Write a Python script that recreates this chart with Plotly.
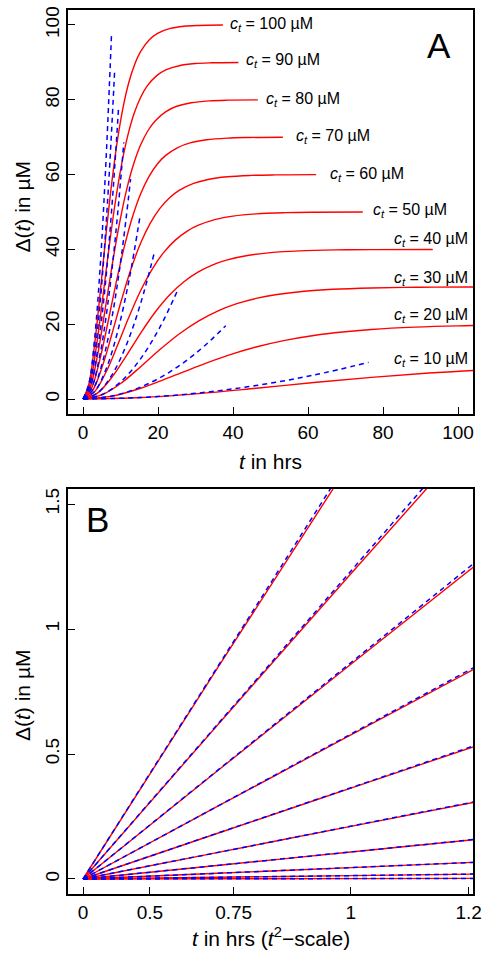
import plotly.graph_objects as go

# ---------------- data ----------------
ct = [100, 90, 80, 70, 60, 50, 40, 30, 20, 10]

# Panel A, red solid curves: time (hrs) and Delta (uM)
redA_t_100 = [0, 1.54, 3.08, 4.62, 6.15, 7.69, 9.23, 10.77, 12.31, 13.85, 15.38, 17.69, 20.0, 23.08, 26.92, 30.77, 37.31]
redA_d_100 = [0, 3.90, 14.44, 28.84, 44.10, 58.00, 69.50, 78.39, 84.95, 89.65, 92.94, 96.06, 97.82, 99.01, 99.64, 99.87, 99.98]
redA_t_90 = [0, 1.71, 3.42, 5.13, 6.84, 8.55, 10.26, 11.97, 13.67, 15.38, 17.09, 19.66, 22.22, 25.64, 29.91, 34.19, 41.45]
redA_d_90 = [0, 3.51, 13.00, 25.96, 39.69, 52.20, 62.55, 70.55, 76.46, 80.69, 83.65, 86.45, 88.04, 89.11, 89.68, 89.88, 89.98]
redA_t_80 = [0, 1.92, 3.85, 5.77, 7.69, 9.62, 11.54, 13.46, 15.38, 17.31, 19.23, 22.12, 25.0, 28.85, 33.65, 38.46, 46.63]
redA_d_80 = [0, 3.12, 11.55, 23.07, 35.28, 46.40, 55.60, 62.71, 67.96, 71.72, 74.35, 76.85, 78.26, 79.21, 79.71, 79.90, 79.98]
redA_t_70 = [0, 2.20, 4.40, 6.59, 8.79, 10.99, 13.19, 15.38, 17.58, 19.78, 21.98, 25.27, 28.57, 32.97, 38.46, 43.95, 53.29]
redA_d_70 = [0, 2.73, 10.11, 20.19, 30.87, 40.60, 48.65, 54.87, 59.47, 62.76, 65.06, 67.24, 68.47, 69.31, 69.75, 69.91, 69.99]
redA_t_60 = [0, 2.56, 5.13, 7.69, 10.26, 12.82, 15.38, 17.95, 20.51, 23.08, 25.64, 29.49, 33.33, 38.46, 44.87, 51.28, 62.18]
redA_d_60 = [0, 2.34, 8.66, 17.30, 26.46, 34.80, 41.70, 47.03, 50.97, 53.79, 55.76, 57.64, 58.69, 59.41, 59.78, 59.92, 59.99]
redA_t_50 = [0, 3.08, 6.15, 9.23, 12.31, 15.38, 18.46, 21.54, 24.61, 27.69, 30.77, 35.38, 40.0, 46.15, 53.84, 61.54, 74.61]
redA_d_50 = [0, 1.95, 7.22, 14.42, 22.05, 29.00, 34.75, 39.20, 42.48, 44.83, 46.47, 48.03, 48.91, 49.51, 49.82, 49.94, 49.99]
redA_t_40 = [0, 3.85, 7.69, 11.54, 15.38, 19.23, 23.08, 26.92, 30.77, 34.62, 38.46, 44.23, 50.0, 57.69, 67.31, 76.92, 93.27]
redA_d_40 = [0, 1.56, 5.78, 11.54, 17.64, 23.20, 27.80, 31.36, 33.98, 35.86, 37.18, 38.42, 39.13, 39.60, 39.86, 39.95, 39.99]
redA_t_30 = [0, 5.13, 10.26, 15.38, 20.51, 25.64, 30.77, 35.90, 41.02, 46.15, 51.28, 58.97, 66.67, 76.92, 89.74, 102.56, 124.35]
redA_d_30 = [0, 1.17, 4.33, 8.65, 13.23, 17.40, 20.85, 23.52, 25.49, 26.90, 27.88, 28.82, 29.35, 29.70, 29.89, 29.96, 29.99]
redA_t_20 = [0, 7.69, 15.38, 23.08, 30.77, 38.46, 46.15, 53.85, 61.54, 69.23, 76.92, 88.46, 100.0, 115.38]
redA_d_20 = [0, 0.78, 2.89, 5.77, 8.82, 11.60, 13.90, 15.68, 16.99, 17.93, 18.59, 19.21, 19.56, 19.80]
redA_t_10 = [0, 15.38, 30.77, 46.15, 61.54, 76.92, 92.30, 107.69]
redA_d_10 = [0, 0.39, 1.44, 2.88, 4.41, 5.80, 6.95, 7.84]

# Panel A, blue dashed curves (early-time approximation)
bluA_t_100 = [0, 1.54, 3.08, 4.62, 6.15, 7.62]
bluA_d_100 = [0, 4.0, 16.0, 36.0, 64.0, 98.0]
bluA_t_90 = [0, 1.71, 3.42, 5.13, 6.84, 8.46]
bluA_d_90 = [0, 3.6, 14.4, 32.4, 57.6, 88.2]
bluA_t_80 = [0, 1.92, 3.85, 5.77, 7.69, 9.52]
bluA_d_80 = [0, 3.2, 12.8, 28.8, 51.2, 78.4]
bluA_t_70 = [0, 2.20, 4.40, 6.59, 8.79, 10.88]
bluA_d_70 = [0, 2.8, 11.2, 25.2, 44.8, 68.6]
bluA_t_60 = [0, 2.56, 5.13, 7.69, 10.26, 12.69]
bluA_d_60 = [0, 2.4, 9.6, 21.6, 38.4, 58.8]
bluA_t_50 = [0, 3.08, 6.15, 9.23, 12.31, 15.23]
bluA_d_50 = [0, 2.0, 8.0, 18.0, 32.0, 49.0]
bluA_t_40 = [0, 3.85, 7.69, 11.54, 15.38, 19.04]
bluA_d_40 = [0, 1.6, 6.4, 14.4, 25.6, 39.2]
bluA_t_30 = [0, 5.13, 10.26, 15.38, 20.51, 25.38]
bluA_d_30 = [0, 1.2, 4.8, 10.8, 19.2, 29.4]
bluA_t_20 = [0, 7.69, 15.38, 23.08, 30.77, 38.08]
bluA_d_20 = [0, 0.8, 3.2, 7.2, 12.8, 19.6]
bluA_t_10 = [0, 15.38, 30.77, 46.15, 61.54, 76.15]
bluA_d_10 = [0, 0.4, 1.6, 3.6, 6.4, 9.8]

# Panel B (x stored as t^2, axis labelled in t)
redB_tsq = [0, 0.5, 1.0, 1.5]
redB_d_100 = [0, 0.8402, 1.6710, 2.4922]
redB_d_90 = [0, 0.6132, 1.2208, 1.8227]
redB_d_80 = [0, 0.4311, 0.8591, 1.2839]
redB_d_70 = [0, 0.2891, 0.5765, 0.8624]
redB_d_60 = [0, 0.1821, 0.3635, 0.5442]
redB_d_50 = [0, 0.1055, 0.2107, 0.3156]
redB_d_40 = [0, 0.05405, 0.1080, 0.1619]
redB_d_30 = [0, 0.02281, 0.04556, 0.06835]
redB_d_20 = [0, 0.00676, 0.01351, 0.02026]
redB_d_10 = [0, 0.000845, 0.00169, 0.002535]

bluB_tsq = [0, 1.5]
bluB_d_100 = [0, 2.535]
bluB_d_90 = [0, 1.848]
bluB_d_80 = [0, 1.298]
bluB_d_70 = [0, 0.8696]
bluB_d_60 = [0, 0.5475]
bluB_d_50 = [0, 0.3170]
bluB_d_40 = [0, 0.1623]
bluB_d_30 = [0, 0.06845]
bluB_d_20 = [0, 0.02028]
bluB_d_10 = [0, 0.002535]

xA_ticks = [0, 20, 40, 60, 80, 100]
yA_ticks = [0, 20, 40, 60, 80, 100]
xB_tick_t = [0, 0.5, 0.75, 1, 1.2]
xB_tick_labels = ["0", "0.5", "0.75", "1", "1.2"]
yB_ticks = [0, 0.5, 1, 1.5]
yB_tick_labels = ["0", "0.5", "1", "1.5"]

# label placement for c_t annotations in panel A (t, Delta)
lab_left_ct = [100, 90, 80, 70, 60, 50]
lab_left_t = [38.6, 43.0, 48.3, 56.3, 65.4, 76.7]
lab_left_y = [100, 90.4, 80.1, 70.1, 60.1, 50.3]
lab_right_ct = [40, 30, 20, 10]
lab_right_y = [42.6, 32.3, 22.3, 10.5]

# --------------- figure ---------------
redA = {100: (redA_t_100, redA_d_100), 90: (redA_t_90, redA_d_90), 80: (redA_t_80, redA_d_80),
        70: (redA_t_70, redA_d_70), 60: (redA_t_60, redA_d_60), 50: (redA_t_50, redA_d_50),
        40: (redA_t_40, redA_d_40), 30: (redA_t_30, redA_d_30), 20: (redA_t_20, redA_d_20),
        10: (redA_t_10, redA_d_10)}
bluA = {100: (bluA_t_100, bluA_d_100), 90: (bluA_t_90, bluA_d_90), 80: (bluA_t_80, bluA_d_80),
        70: (bluA_t_70, bluA_d_70), 60: (bluA_t_60, bluA_d_60), 50: (bluA_t_50, bluA_d_50),
        40: (bluA_t_40, bluA_d_40), 30: (bluA_t_30, bluA_d_30), 20: (bluA_t_20, bluA_d_20),
        10: (bluA_t_10, bluA_d_10)}
redB = {100: redB_d_100, 90: redB_d_90, 80: redB_d_80, 70: redB_d_70, 60: redB_d_60,
        50: redB_d_50, 40: redB_d_40, 30: redB_d_30, 20: redB_d_20, 10: redB_d_10}
bluB = {100: bluB_d_100, 90: bluB_d_90, 80: bluB_d_80, 70: bluB_d_70, 60: bluB_d_60,
        50: bluB_d_50, 40: bluB_d_40, 30: bluB_d_30, 20: bluB_d_20, 10: bluB_d_10}

RED = "#FF0000"
BLUE = "#0000FF"
FONT = "Liberation Sans, Arial, Helvetica, sans-serif"

fig = go.Figure()
for c in ct:
    t, d = redA[c]
    fig.add_trace(go.Scatter(x=t, y=d, mode="lines", line=dict(color=RED, width=1.4, shape="spline"),
                             xaxis="x", yaxis="y", showlegend=False, hoverinfo="skip"))
for c in ct:
    t, d = bluA[c]
    fig.add_trace(go.Scatter(x=t, y=d, mode="lines",
                             line=dict(color=BLUE, width=1.5, dash="5px,4px", shape="spline"),
                             xaxis="x", yaxis="y", showlegend=False, hoverinfo="skip"))
for c in ct:
    fig.add_trace(go.Scatter(x=redB_tsq, y=redB[c], mode="lines", line=dict(color=RED, width=1.4, shape="spline"),
                             xaxis="x2", yaxis="y2", showlegend=False, hoverinfo="skip"))
for c in ct:
    fig.add_trace(go.Scatter(x=bluB_tsq, y=bluB[c], mode="lines",
                             line=dict(color=BLUE, width=1.5, dash="5px,4px"),
                             xaxis="x2", yaxis="y2", showlegend=False, hoverinfo="skip"))

axis_common = dict(showline=True, mirror=True, linecolor="black", linewidth=1.5,
                   ticks="inside", ticklen=7, tickwidth=1.3, tickcolor="black", automargin=False,
                   showgrid=False, zeroline=False, tickfont=dict(size=19, color="black", family=FONT))

fig.update_layout(
    width=489, height=954,
    margin=dict(l=68, r=16, t=10, b=60, autoexpand=False),
    paper_bgcolor="white", plot_bgcolor="white",
    font=dict(family=FONT, color="black"),
    xaxis=dict(domain=[0, 1], anchor="y", range=[-4, 104], tickvals=xA_ticks, **axis_common),
    yaxis=dict(domain=[0.543, 1], anchor="x", range=[-4, 104], tickvals=yA_ticks, tickangle=-90, **axis_common),
    xaxis2=dict(domain=[0, 1], anchor="y2", range=[-0.056, 1.456],
                tickvals=[v * v for v in xB_tick_t], ticktext=xB_tick_labels, **axis_common),
    yaxis2=dict(domain=[0, 0.4581], anchor="x2", range=[-0.06, 1.56],
                tickvals=yB_ticks, ticktext=yB_tick_labels, tickangle=-90, **axis_common),
)

ann = []
for c, tx, ty in zip(lab_left_ct, lab_left_t, lab_left_y):
    ann.append(dict(x=tx, y=ty, xref="x", yref="y", xanchor="left", yanchor="middle", showarrow=False,
                    text="<i>c</i><sub><i>t</i></sub> = %d µM" % c, font=dict(size=16)))
for c, ty in zip(lab_right_ct, lab_right_y):
    ann.append(dict(x=103.3, y=ty, xref="x", yref="y", xanchor="right", yanchor="middle", showarrow=False,
                    text="<i>c</i><sub><i>t</i></sub> = %d µM" % c, font=dict(size=16)))
ann.append(dict(x=95.0, y=94.5, xref="x", yref="y", text="A", showarrow=False, font=dict(size=35),
                xanchor="center", yanchor="middle"))
ann.append(dict(x=0.053, y=1.437, xref="x2", yref="y2", text="B", showarrow=False, font=dict(size=35),
                xanchor="center", yanchor="middle"))
# axis titles
ann.append(dict(x=0.5, y=(894 - 461.7) / 884, xref="paper", yref="paper", text="<i>t</i> in hrs",
                showarrow=False, font=dict(size=21), xanchor="center", yanchor="middle"))
ann.append(dict(x=(22 - 68) / 405, y=(894 - 207.5) / 884, xref="paper", yref="paper", text="Δ(<i>t</i>) in µM",
                showarrow=False, font=dict(size=21), textangle=-90, xanchor="center", yanchor="middle"))
ann.append(dict(x=0.5, y=(894 - 936.7) / 884, xref="paper", yref="paper",
                text="<i>t</i> in hrs (<i>t</i><sup>2</sup>−scale)",
                showarrow=False, font=dict(size=21), xanchor="center", yanchor="middle"))
ann.append(dict(x=(22 - 68) / 405, y=(894 - 696) / 884, xref="paper", yref="paper", text="Δ(<i>t</i>) in µM",
                showarrow=False, font=dict(size=21), textangle=-90, xanchor="center", yanchor="middle"))
fig.update_layout(annotations=ann)

fig.write_html("out.html", config={"displayModeBar": False},
               post_script="document.body.style.margin='0';document.body.style.padding='0';"
                           "document.body.style.overflow='hidden';")
